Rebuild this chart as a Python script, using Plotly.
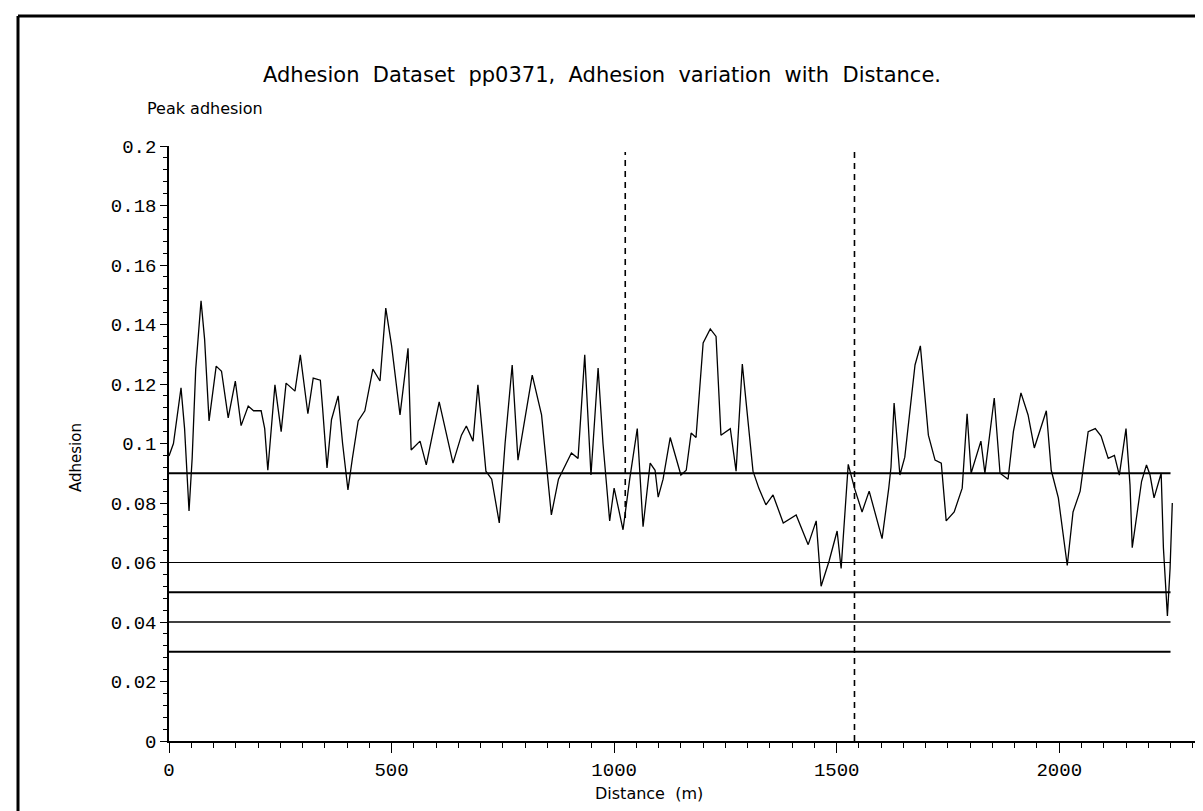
import plotly.graph_objects as go

# ---- data ----
distance_m = [0, 10, 27, 35, 45, 52, 60, 72, 80, 90, 106, 118, 133, 149, 162, 178, 190, 207, 215, 222,
              238, 245, 252, 263, 283, 295, 312, 324, 340, 345, 355, 365, 380, 390, 402, 412, 425, 440,
              458, 474, 487, 500, 519, 537, 544, 564, 578, 607, 638, 657, 668, 683, 694, 712, 725, 742,
              755, 771, 784, 816, 837, 859, 875, 904, 919, 934, 948, 964, 975, 990, 1000, 1010, 1020,
              1035, 1052, 1065, 1081, 1092, 1099, 1110, 1126, 1150, 1162, 1173, 1184, 1200, 1216, 1229,
              1240, 1261, 1274, 1288, 1312, 1325, 1341, 1357, 1380, 1409, 1436, 1454, 1465, 1483, 1501,
              1510, 1521, 1526, 1540, 1557, 1573, 1602, 1617, 1622, 1629, 1642, 1653, 1676, 1688, 1706,
              1721, 1735, 1746, 1764, 1782, 1793, 1802, 1824, 1833, 1854, 1867, 1885, 1897, 1914, 1930,
              1944, 1971, 1982, 1998, 2018, 2031, 2047, 2065, 2081, 2094, 2110, 2124, 2135, 2150, 2159,
              2164, 2173, 2185, 2196, 2204, 2213, 2229, 2234, 2243, 2249, 2254]
adhesion = [0.0958, 0.100, 0.1187, 0.105, 0.0773, 0.095, 0.125, 0.148, 0.135, 0.1076, 0.126, 0.1243,
            0.1086, 0.121, 0.106, 0.1126, 0.111, 0.111, 0.105, 0.091, 0.1197, 0.112, 0.104, 0.1203,
            0.1176, 0.1298, 0.110, 0.122, 0.1213, 0.112, 0.0918, 0.108, 0.116, 0.100, 0.0844, 0.095,
            0.1076, 0.111, 0.125, 0.121, 0.1455, 0.133, 0.1096, 0.132, 0.0978, 0.1008, 0.0928, 0.114,
            0.0934, 0.1028, 0.1059, 0.1008, 0.1197, 0.0907, 0.088, 0.0733, 0.100, 0.1264, 0.0944,
            0.123, 0.1096, 0.076, 0.088, 0.0968, 0.095, 0.1298, 0.0894, 0.1254, 0.100, 0.074, 0.085,
            0.078, 0.071, 0.088, 0.105, 0.072, 0.0934, 0.091, 0.082, 0.088, 0.102, 0.0894, 0.091,
            0.1035, 0.102, 0.1338, 0.1385, 0.136, 0.1028, 0.105, 0.0907, 0.1267, 0.0907, 0.085,
            0.0794, 0.0827, 0.0733, 0.076, 0.066, 0.074, 0.052, 0.0605, 0.0706, 0.058, 0.0817, 0.093,
            0.085, 0.077, 0.084, 0.068, 0.085, 0.092, 0.1136, 0.0894, 0.0954, 0.1264, 0.1328, 0.1028,
            0.0944, 0.0934, 0.074, 0.077, 0.085, 0.110, 0.090, 0.1008, 0.090, 0.1153, 0.090, 0.088,
            0.104, 0.117, 0.1096, 0.0985, 0.111, 0.091, 0.0817, 0.059, 0.077, 0.084, 0.104, 0.105,
            0.1025, 0.095, 0.096, 0.0894, 0.105, 0.086, 0.065, 0.075, 0.0873, 0.0928, 0.0894, 0.0817,
            0.090, 0.065, 0.042, 0.058, 0.080]

threshold_levels = [0.09, 0.06, 0.05, 0.04, 0.03]
threshold_widths = [2.2, 1.2, 1.8, 1.5, 2.0]
threshold_span = [0, 2250]

marker_distances = [1025, 1540]
marker_bottoms = [0.075, 0.0]
marker_top = 0.198

title_text = "Adhesion\u00a0 Dataset\u00a0 pp0371,\u00a0 Adhesion\u00a0 variation\u00a0 with\u00a0 Distance."
subtitle_text = "Peak adhesion"
x_title = "Distance\u00a0 (m)"
y_title = "Adhesion"

W, H = 1203, 811
L, R, T, B = 161, 1187, 138, 733

def px(xp):
    return (xp - L) / (R - L)

def py(yp):
    return (B - yp) / (B - T)

fig = go.Figure()

for lvl, lw in zip(threshold_levels, threshold_widths):
    fig.add_trace(go.Scatter(x=threshold_span, y=[lvl, lvl], mode="lines",
                             line=dict(color="black", width=lw), showlegend=False, hoverinfo="skip"))

for xd, yb in zip(marker_distances, marker_bottoms):
    fig.add_trace(go.Scatter(x=[xd, xd], y=[yb, marker_top], mode="lines",
                             line=dict(color="black", width=1.6, dash="6px,5px"),
                             showlegend=False, hoverinfo="skip"))

fig.add_trace(go.Scatter(x=distance_m, y=adhesion, mode="lines",
                         line=dict(color="black", width=1.3), showlegend=False))

tickfont = dict(family="Liberation Mono, DejaVu Sans Mono, monospace", size=19, color="black")

fig.update_xaxes(range=[0, 2305], tickvals=[0, 500, 1000, 1500, 2000], ticks="outside",
                 ticklen=10, tickwidth=1.2, tickcolor="black", showline=True, linecolor="black",
                 linewidth=1.5, showgrid=False, zeroline=False, tickfont=tickfont,
                 minor=dict(dtick=50, ticks="outside", ticklen=5, tickwidth=1.2, tickcolor="black", showgrid=False))
fig.update_yaxes(range=[0, 0.2], dtick=0.02, tick0=0, ticks="outside", ticklen=7, tickwidth=1.2,
                 tickcolor="black", showline=True, linecolor="black", linewidth=1.5, showgrid=False,
                 zeroline=False, tickfont=tickfont,
                 minor=dict(dtick=0.004, ticks="outside", ticklen=4, tickwidth=1.2, tickcolor="black", showgrid=False))

fig.update_layout(
    width=W, height=H,
    margin=dict(l=L, r=W - R, t=T, b=H - B),
    paper_bgcolor="white", plot_bgcolor="white",
    font=dict(family="DejaVu Sans, sans-serif", color="black"),
    annotations=[
        dict(text=title_text, x=px(594), y=py(67), xref="paper", yref="paper",
             showarrow=False, xanchor="center", yanchor="middle", font=dict(size=21)),
        dict(text=subtitle_text, x=px(137), y=py(100), xref="paper", yref="paper",
             showarrow=False, xanchor="left", yanchor="middle", font=dict(size=16)),
        dict(text=y_title, x=px(68), y=py(450), xref="paper", yref="paper", textangle=-90,
             showarrow=False, xanchor="center", yanchor="middle", font=dict(size=15)),
        dict(text=x_title, x=px(641), y=py(785), xref="paper", yref="paper",
             showarrow=False, xanchor="center", yanchor="middle", font=dict(size=16)),
    ],
    shapes=[
        dict(type="line", xref="paper", yref="paper", x0=px(10), x1=px(10), y0=py(8), y1=py(815),
             line=dict(color="black", width=3)),
        dict(type="line", xref="paper", yref="paper", x0=px(10), x1=px(1194), y0=py(8), y1=py(8),
             line=dict(color="black", width=3)),
        dict(type="line", xref="paper", yref="paper", x0=px(1194), x1=px(1194), y0=py(8), y1=py(815),
             line=dict(color="black", width=3)),
    ],
)

fig.write_html("out.html")
